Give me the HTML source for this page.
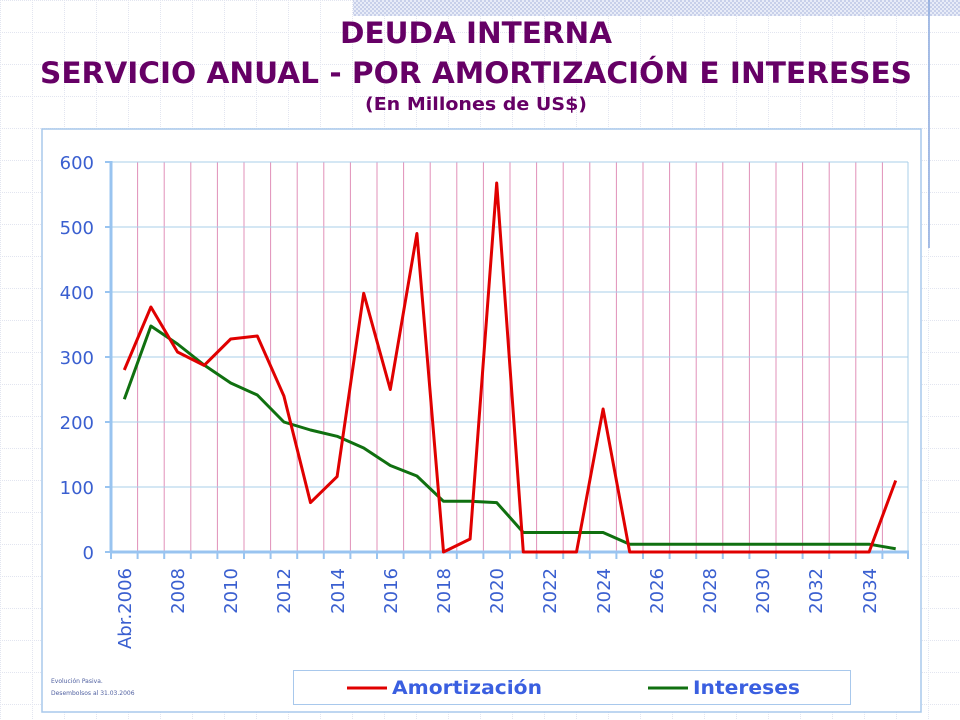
<!DOCTYPE html>
<html><head><meta charset="utf-8"><style>
html,body{margin:0;padding:0;background:#fff;}
svg{display:block;}
</style></head><body>
<svg width="960" height="720" xmlns="http://www.w3.org/2000/svg" font-family="Tahoma,'DejaVu Sans','Liberation Sans',sans-serif">
<defs>
<pattern id="g" width="32" height="32" patternUnits="userSpaceOnUse" x="0" y="0">
<path d="M0 0.5H32M0.5 0V32" stroke="#e2e5f0" stroke-width="1" stroke-dasharray="1 1" fill="none"/>
</pattern>
<pattern id="h" width="4" height="4" patternUnits="userSpaceOnUse">
<rect width="4" height="4" fill="#e8ecf8"/><rect width="2" height="2" fill="#c8d0ea"/><rect x="2" y="2" width="2" height="2" fill="#c8d0ea"/>
</pattern>
</defs>
<rect width="960" height="720" fill="#fff"/>
<rect width="960" height="720" fill="url(#g)"/>
<rect x="353" y="0" width="607" height="16" fill="url(#h)"/>
<line x1="929" y1="0" x2="929" y2="248" stroke="#8aa8dd" stroke-width="1.5"/>

<text x="476" y="43" text-anchor="middle" font-size="29" font-weight="bold" fill="#660066" textLength="272" lengthAdjust="spacingAndGlyphs">DEUDA INTERNA</text>
<text x="476" y="83" text-anchor="middle" font-size="29" font-weight="bold" fill="#660066" textLength="872" lengthAdjust="spacingAndGlyphs">SERVICIO ANUAL - POR AMORTIZACIÓN E INTERESES</text>
<text x="476" y="110" text-anchor="middle" font-size="18" font-weight="bold" fill="#660066" textLength="222" lengthAdjust="spacingAndGlyphs">(En Millones de US$)</text>

<rect x="42" y="129" width="879" height="583" fill="#fff" stroke="#a8c8ec" stroke-width="1.5"/>

<g stroke="#e090b8" stroke-width="1">
<path d="M137.6 162V552M164.2 162V552M190.8 162V552M217.4 162V552M244 162V552M270.6 162V552M297.2 162V552M323.8 162V552M350.4 162V552M377 162V552M403.6 162V552M430.2 162V552M456.8 162V552M483.4 162V552M510 162V552M536.6 162V552M563.2 162V552M589.8 162V552M616.4 162V552M643 162V552M669.6 162V552M696.2 162V552M722.8 162V552M749.4 162V552M776 162V552M802.6 162V552M829.2 162V552M855.8 162V552M882.4 162V552"/>
</g>
<g stroke="#a8cfe8" stroke-width="1">
<path d="M111 162H908M111 227H908M111 292H908M111 357H908M111 422H908M111 487H908M908 162V552"/>
</g>
<g stroke="#99c4f0" stroke-width="2">
<path d="M105 162H111M105 227H111M105 292H111M105 357H111M105 422H111M105 487H111M105 552H111"/>
<path d="M111 552v7M137.6 552v7M164.2 552v7M190.8 552v7M217.4 552v7M244 552v7M270.6 552v7M297.2 552v7M323.8 552v7M350.4 552v7M377 552v7M403.6 552v7M430.2 552v7M456.8 552v7M483.4 552v7M510 552v7M536.6 552v7M563.2 552v7M589.8 552v7M616.4 552v7M643 552v7M669.6 552v7M696.2 552v7M722.8 552v7M749.4 552v7M776 552v7M802.6 552v7M829.2 552v7M855.8 552v7M882.4 552v7M908 552v7"/>
</g>
<line x1="111" y1="161" x2="111" y2="553" stroke="#99c4f0" stroke-width="3"/>
<line x1="110" y1="552" x2="909" y2="552" stroke="#99c4f0" stroke-width="3"/>

<g font-size="18" fill="#3a5fd0" text-anchor="end" font-family="'DejaVu Sans','Liberation Sans',sans-serif">
<text x="94" y="169">600</text><text x="94" y="234">500</text><text x="94" y="299">400</text><text x="94" y="364">300</text><text x="94" y="429">200</text><text x="94" y="494">100</text><text x="94" y="559">0</text>
</g>
<g font-size="18" fill="#3a5fd0" text-anchor="end" font-family="'DejaVu Sans','Liberation Sans',sans-serif">
<text transform="translate(131,568) rotate(-90)">Abr.2006</text>
<text transform="translate(184,568) rotate(-90)">2008</text>
<text transform="translate(237,568) rotate(-90)">2010</text>
<text transform="translate(290,568) rotate(-90)">2012</text>
<text transform="translate(344,568) rotate(-90)">2014</text>
<text transform="translate(397,568) rotate(-90)">2016</text>
<text transform="translate(450,568) rotate(-90)">2018</text>
<text transform="translate(503,568) rotate(-90)">2020</text>
<text transform="translate(556,568) rotate(-90)">2022</text>
<text transform="translate(610,568) rotate(-90)">2024</text>
<text transform="translate(663,568) rotate(-90)">2026</text>
<text transform="translate(716,568) rotate(-90)">2028</text>
<text transform="translate(769,568) rotate(-90)">2030</text>
<text transform="translate(822,568) rotate(-90)">2032</text>
<text transform="translate(876,568) rotate(-90)">2034</text>
</g>

<polyline fill="none" stroke="#107010" stroke-width="3" stroke-linejoin="round" points="124.3,399.3 150.9,326 177.5,344 204.1,365 230.7,383 257.3,395 283.9,422 310.5,430 337.1,436.3 363.7,448 390.3,465.5 416.9,476 443.5,501.3 470.1,501.3 496.7,502.6 523.3,532.5 549.9,532.5 576.5,532.5 603.1,532.5 629.7,544.2 869.1,544.2 895.7,548.75"/>
<polyline fill="none" stroke="#e00000" stroke-width="3" stroke-linejoin="round" points="124.3,370 150.9,307 177.5,352 204.1,365.4 230.7,339 257.3,336 283.9,396 310.5,502.6 337.1,476.6 363.7,293.3 390.3,389.5 416.9,233.5 443.5,552 470.1,539 496.7,183 523.3,552 576.5,552 603.1,409 629.7,552 869.1,552 895.7,480.5"/>

<text x="51" y="683" font-size="6" fill="#5060a0" font-family="'DejaVu Sans',sans-serif">Evolución Pasiva.</text>
<text x="51" y="695" font-size="6" fill="#5060a0" font-family="'DejaVu Sans',sans-serif">Desembolsos al 31.03.2006</text>

<rect x="293.5" y="670.5" width="557" height="34" fill="#fff" stroke="#a8c8ec" stroke-width="1"/>
<line x1="347" y1="688" x2="387" y2="688" stroke="#e00000" stroke-width="3"/>
<text x="392" y="694" font-size="19" font-weight="bold" fill="#3a5fe0" textLength="150" lengthAdjust="spacingAndGlyphs">Amortización</text>
<line x1="648" y1="688" x2="688" y2="688" stroke="#107010" stroke-width="3"/>
<text x="693" y="694" font-size="19" font-weight="bold" fill="#3a5fe0" textLength="107" lengthAdjust="spacingAndGlyphs">Intereses</text>
</svg>
</body></html>
